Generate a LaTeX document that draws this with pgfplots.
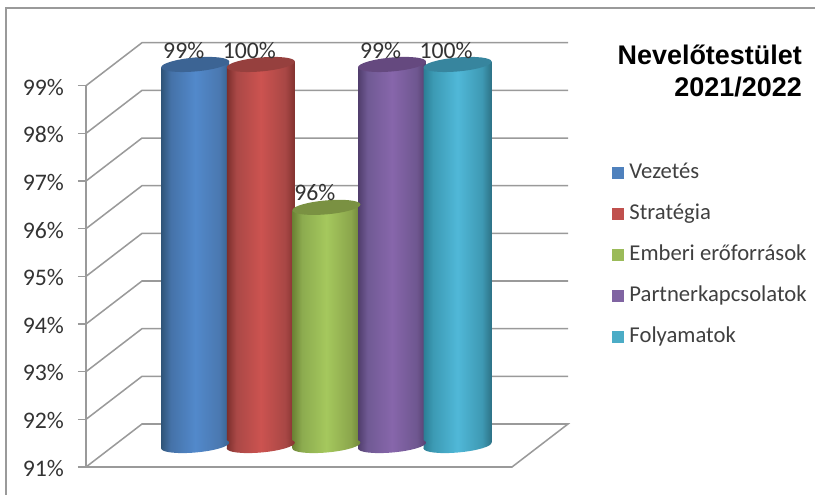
\documentclass[border=0pt]{standalone}
\usepackage{fontspec}
\setmainfont{Carlito}
\newfontfamily\titlefont{Liberation Sans}
\usepackage{pgfplots}
\pgfplotsset{compat=1.18}
% horizontal shadings of the cylinders: the visible part is 25bp..75bp
\newcommand\defcyl[6]{%
  \pgfdeclarehorizontalshading{cyl#1}{100bp}{%
    color(0bp)=(#2); color(25bp)=(#2); color(32bp)=(#3); color(50bp)=(#4);
    color(68bp)=(#5); color(75bp)=(#6); color(100bp)=(#6)}%
}
\definecolor{Ba}{HTML}{2F5478}\definecolor{Bb}{HTML}{4572A8}\definecolor{Bc}{HTML}{5289CB}\definecolor{Bd}{HTML}{4A78B0}\definecolor{Be}{HTML}{36618F}\definecolor{Bt}{HTML}{3C6494}
\definecolor{Ra}{HTML}{7B2F2D}\definecolor{Rb}{HTML}{AA4846}\definecolor{Rc}{HTML}{CC5350}\definecolor{Rd}{HTML}{A84745}\definecolor{Re}{HTML}{82322F}\definecolor{Rt}{HTML}{96403E}
\definecolor{Ga}{HTML}{6B8234}\definecolor{Gb}{HTML}{8CAB4F}\definecolor{Gc}{HTML}{A5C85D}\definecolor{Gd}{HTML}{8BA64C}\definecolor{Ge}{HTML}{6D8339}\definecolor{Gt}{HTML}{7A9142}
\definecolor{Pa}{HTML}{503D6C}\definecolor{Pb}{HTML}{705A94}\definecolor{Pc}{HTML}{8766AB}\definecolor{Pd}{HTML}{6F5790}\definecolor{Pe}{HTML}{553F70}\definecolor{Pt}{HTML}{65497F}
\definecolor{Ca}{HTML}{2C7E95}\definecolor{Cb}{HTML}{3C9AB4}\definecolor{Cc}{HTML}{50B8D8}\definecolor{Cd}{HTML}{3E99B3}\definecolor{Ce}{HTML}{2D7286}\definecolor{Ct}{HTML}{37859E}
\defcyl{B}{Ba}{Bb}{Bc}{Bd}{Be}
\defcyl{R}{Ra}{Rb}{Rc}{Rd}{Re}
\defcyl{G}{Ga}{Gb}{Gc}{Gd}{Ge}
\defcyl{P}{Pa}{Pb}{Pc}{Pd}{Pe}
\defcyl{C}{Ca}{Cb}{Cc}{Cd}{Ce}
\newcommand\cylmarks[2]{%
  \pgfdeclareplotmark{cylbot#1}{%
    \pgfpathellipse{\pgfpointorigin}{\pgfpoint{25.5pt}{2.25pt}}{\pgfpoint{-0.5pt}{5.2pt}}%
    \pgfshadepath{cyl#1}{0}\pgfusepath{discard}}%
  \pgfdeclareplotmark{cyltop#1}{%
    \pgfpathellipse{\pgfpointorigin}{\pgfpoint{25.5pt}{2.25pt}}{\pgfpoint{-0.5pt}{5.2pt}}%
    \pgfsetfillcolor{#2}\pgfusepath{fill}}%
}
\cylmarks{B}{Bt}\cylmarks{R}{Rt}\cylmarks{G}{Gt}\cylmarks{P}{Pt}\cylmarks{C}{Ct}
% #1 colour key, #2 position, #3 left edge, #4 right edge,
% #5 and #6 drawn height at left and right edge (tilted top; the axis ends at 99),
% #7 centre of the top, #8 value
\newcommand\cylinder[8]{%
  \addplot[draw=none, shading=cyl#1] coordinates {(#3,90.937)(#3,#5)(#4,#6)(#4,91.063)} --cycle;
  \addplot[only marks, mark=cylbot#1] coordinates {(#2,91)};
  \addplot[only marks, mark=cyltop#1, nodes near coords={#8\%},
    every node near coord/.style={anchor=center, xshift=-8.6pt, yshift=10.8pt,
      font=\fontsize{17.8}{17.8}\selectfont, text=black!80, inner sep=0pt}]
    coordinates {(#2,#7)};
}
\definecolor{gridgr}{HTML}{9A9A9A}
\definecolor{lgB}{HTML}{4F81BD}\definecolor{lgR}{HTML}{C0504D}\definecolor{lgG}{HTML}{9BBB59}\definecolor{lgP}{HTML}{8064A2}\definecolor{lgC}{HTML}{4BACC6}
\begin{document}
\begin{tikzpicture}
\useasboundingbox (0,0) rectangle (611.25pt,371.25pt);
\begin{axis}[
  name=walls, at={(64.5pt,21pt)}, anchor=south west, scale only axis,
  width=319.5pt, height=285.98pt,
  xmin=86, xmax=512, ymin=91, ymax=99, clip=false,
  axis x line=none, axis y line=left,
  axis line style={-, gridgr, line width=1.1pt},
  ytick={91,92,93,94,95,96,97,98,99},
  yticklabel={\pgfmathprintnumber{\tick}\%},
  /pgf/number format/assume math mode=true,
  tick style={gridgr, line width=1.1pt},
  tick align=outside, major tick length=6pt,
  yticklabel style={font=\fontsize{17.8}{17.8}\selectfont, text=black!80, xshift=-7pt, yshift=-1pt},
  title={Nevelőtestület\\2021/2022},
  title style={font=\titlefont\bfseries\fontsize{20.2}{23.8}\selectfont, align=right,
    at={(rel axis cs:1.6808,1.087)}, anchor=north east, inner sep=0pt},
  legend style={at={(rel axis cs:1.225,0.555)}, anchor=west, draw=none, fill=none,
    font=\fontsize{17}{17}\selectfont, text=black!75,
    nodes={text height=10pt, text depth=3pt, inner sep=0pt},
    row sep=17.75pt, /tikz/every odd column/.append style={column sep=4pt}},
  legend cell align=left,
  legend image code/.code={\fill[draw=none,#1] (0pt,-4.5pt) rectangle (9pt,4.5pt);},
]
% outer frame
\addplot[forget plot, color=gridgr, line width=1.1pt] coordinates {(6,90.41)(6,100.63)(815,100.63)};
% back wall and side wall grid lines
\addplot[forget plot, color=gridgr, line width=1.15pt] coordinates {(86,91)(142,91.902)(568,91.902)(512,91)(86,91)};
\addplot[forget plot, color=gridgr, line width=1.15pt] coordinates {(86,92)(142,92.902)(568,92.902)};
\addplot[forget plot, color=gridgr, line width=1.15pt] coordinates {(86,93)(142,93.902)(568,93.902)};
\addplot[forget plot, color=gridgr, line width=1.15pt] coordinates {(86,94)(142,94.902)(568,94.902)};
\addplot[forget plot, color=gridgr, line width=1.15pt] coordinates {(86,95)(142,95.902)(568,95.902)};
\addplot[forget plot, color=gridgr, line width=1.15pt] coordinates {(86,96)(142,96.902)(568,96.902)};
\addplot[forget plot, color=gridgr, line width=1.15pt] coordinates {(86,97)(142,97.902)(568,97.902)};
\addplot[forget plot, color=gridgr, line width=1.15pt] coordinates {(86,98)(142,98.902)(568,98.902)};
\addplot[forget plot, color=gridgr, line width=1.15pt] coordinates {(86,99)(142,99.902)(568,99.902)};
\addlegendimage{fill=lgB}\addlegendentry{Vezetés}
\addlegendimage{fill=lgR}\addlegendentry{Stratégia}
\addlegendimage{fill=lgG}\addlegendentry{Emberi erőforrások}
\addlegendimage{fill=lgP}\addlegendentry{Partnerkapcsolatok}
\addlegendimage{fill=lgC}\addlegendentry{Folyamatok}
\end{axis}
\begin{axis}[
  name=cyl, at={(97.2pt,37.1pt)}, anchor=south west, scale only axis,
  width=295.2pt, height=285.8pt,
  xmin=-1, xmax=5, ymin=91, ymax=99,
  hide axis, clip=false,
]
\cylinder{B}{0}{-0.518}{0.518}{98.937}{99.063}{99}{99}
\cylinder{R}{1}{0.482}{1.518}{98.937}{99.063}{99}{100}
\cylinder{G}{2}{1.482}{2.518}{95.937}{96.063}{96}{96}
\cylinder{P}{3}{2.482}{3.518}{98.937}{99.063}{99}{99}
\cylinder{C}{4}{3.482}{4.518}{98.937}{99.063}{99}{100}
\end{axis}
\end{tikzpicture}
\end{document}
